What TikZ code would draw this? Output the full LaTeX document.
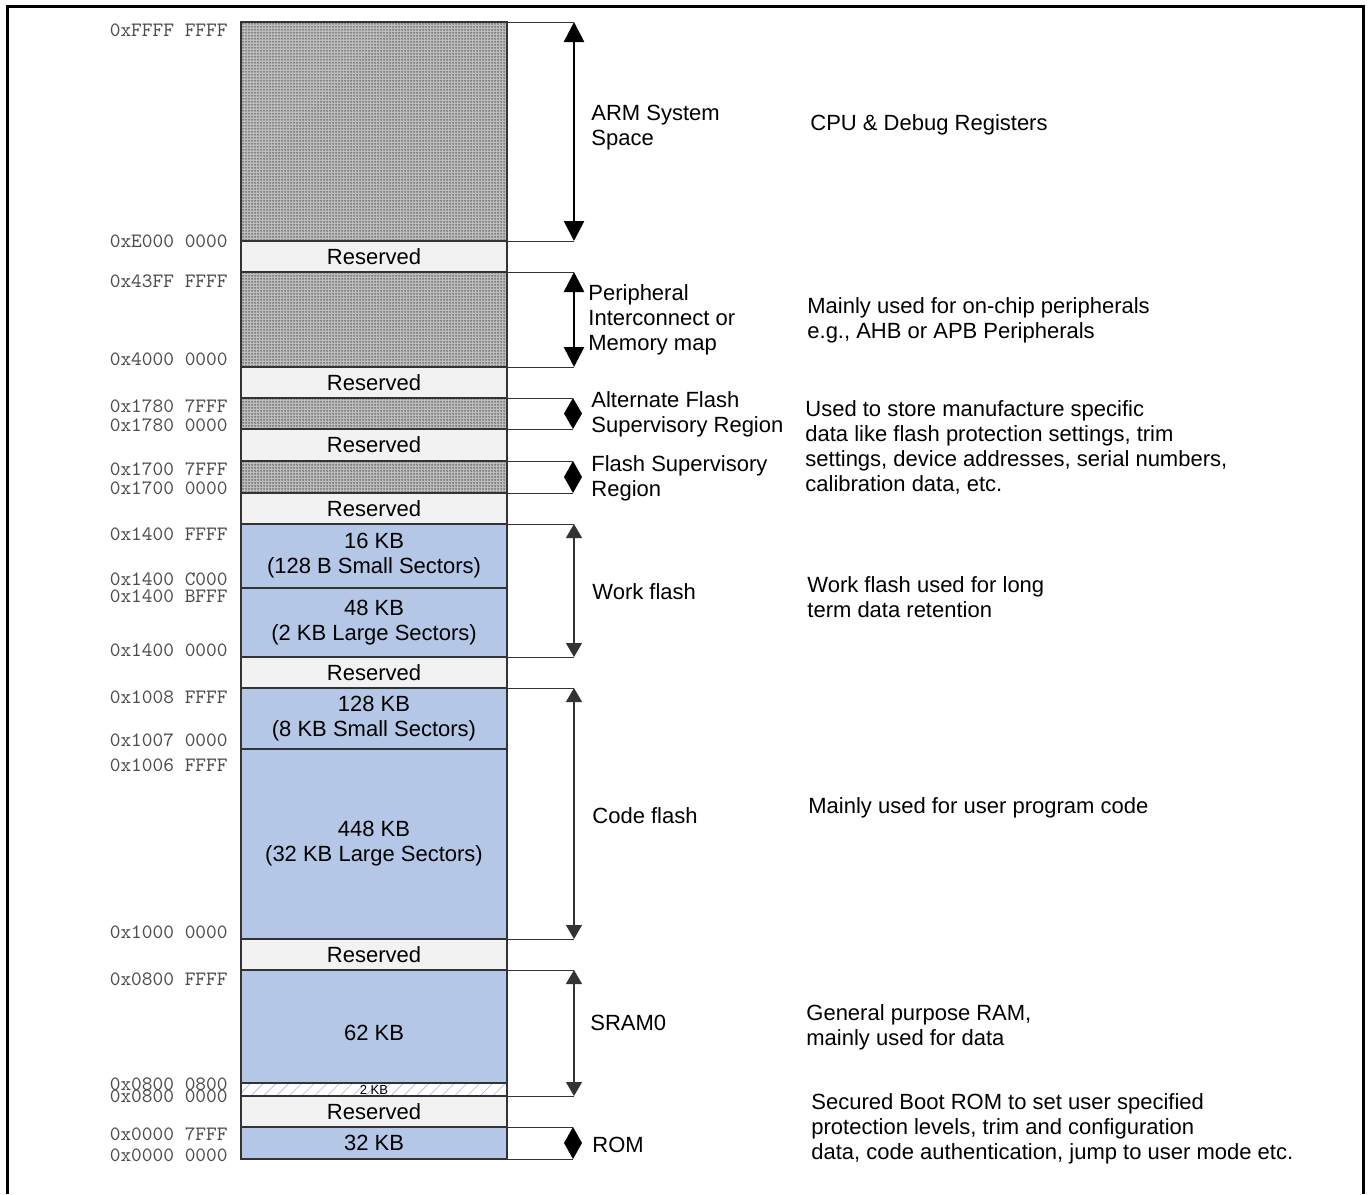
\documentclass[tikz,border=0pt]{standalone}
\usepackage{fontspec}
\setmainfont{Liberation Sans}
\usetikzlibrary{arrows.meta,patterns.meta,calc}
\definecolor{blu}{HTML}{B4C7E7}
\definecolor{resv}{HTML}{F2F2F2}
\definecolor{edgec}{HTML}{333333}
\newcommand\mytxt{\fontsize{11}{12.5}\selectfont}
\newcommand\myaddr{\fontsize{10.2}{12}\ttfamily}
\newcommand\memblk[5]{\node[#4, minimum height={(#3-#2)*0.5pt}] (#1) at (374,{(#2+#3)/2}) {#5};}
\newcommand\diamarrow[2]{\fill[black] (#1) -- ($(#1)!0.5!(#2)+(4.5pt,0)$) -- (#2) -- ($(#1)!0.5!(#2)+(-4.5pt,0)$) -- cycle;}
\tikzset{
 blk/.style={draw=edgec, line width=0.6pt, minimum width=133pt, inner sep=0pt, outer sep=0pt, font=\mytxt, align=center},
 resblk/.style={blk, fill=resv},
 blublk/.style={blk, fill=blu},
 dotblk/.style={blk, preaction={fill=black!26}, pattern={Dots[distance=1.5pt,radius=0.38pt]}, pattern color=black!70},
 hatblk/.style={blk, preaction={fill=white}, pattern={Lines[angle=45,distance=4.5pt,line width=0.4pt]}, pattern color=blu},
 addr/.style={font=\myaddr, text=black!70, anchor=east, inner sep=0pt},
 lbl/.style={font=\mytxt, align=left, anchor=west, inner sep=0pt, yshift=-1pt},
 intxt/.style={font=\mytxt, align=center, inner sep=0pt},
 edgeline/.style={draw=edgec, line width=0.5pt},
 thickarr/.style={line width=1.3pt, {Triangle[width=10pt,length=10pt]}-{Triangle[width=10pt,length=10pt]}},
 thinarr/.style={draw=edgec, line width=0.65pt, {Triangle[width=8pt,length=7pt]}-{Triangle[width=8pt,length=7pt]}},
}
\begin{document}
\begin{tikzpicture}[x=0.5pt,y=-0.5pt]
\useasboundingbox (0,0) rectangle (1369,1194);
\draw[line width=1.5pt] (7,1194) -- (7,6) -- (1363,6) -- (1363,1194);

% memory blocks
\memblk{arm}{22}{241}{dotblk}{}
\memblk{r1}{241}{272}{resblk}{Reserved}
\memblk{per}{272}{367}{dotblk}{}
\memblk{r2}{367}{398}{resblk}{Reserved}
\memblk{afs}{398}{429}{dotblk}{}
\memblk{r3}{429}{461}{resblk}{Reserved}
\memblk{fs}{461}{493}{dotblk}{}
\memblk{r4}{493}{524}{resblk}{Reserved}
\memblk{w16}{524}{588}{blublk}{16 KB\\(128 B Small Sectors)}
\memblk{w48}{588}{657}{blublk}{48 KB\\(2 KB Large Sectors)}
\memblk{r5}{657}{688}{resblk}{Reserved}
\memblk{c128}{688}{749}{blublk}{128 KB\\(8 KB Small Sectors)}
\memblk{c448}{749}{939}{blublk}{448 KB\\(32 KB Large Sectors)}
\memblk{r6}{939}{970}{resblk}{Reserved}
\memblk{s62}{970}{1083}{blublk}{}
\memblk{s2}{1083}{1096}{hatblk}{}
\memblk{r7}{1096}{1127}{resblk}{Reserved}
\memblk{rom}{1127}{1159}{blublk}{32 KB}
\node[intxt] (t62) at (374,1033) {62 KB};
\node[intxt, font=\fontsize{6.5}{7}\selectfont] (t2) at (374,1089.5) {2 KB};

% addresses
\node[addr] (a1) at (228,30) {0xFFFF FFFF};
\node[addr] (a2) at (228,241) {0xE000 0000};
\node[addr] (a3) at (228,281) {0x43FF FFFF};
\node[addr] (a4) at (228,359) {0x4000 0000};
\node[addr] (a5) at (228,406) {0x1780 7FFF};
\node[addr] (a6) at (228,425) {0x1780 0000};
\node[addr] (a7) at (228,469) {0x1700 7FFF};
\node[addr] (a8) at (228,488) {0x1700 0000};
\node[addr] (a9) at (228,534) {0x1400 FFFF};
\node[addr] (a10) at (228,579.5) {0x1400 C000};
\node[addr] (a11) at (228,596) {0x1400 BFFF};
\node[addr] (a12) at (228,650) {0x1400 0000};
\node[addr] (a13) at (228,697) {0x1008 FFFF};
\node[addr] (a14) at (228,740) {0x1007 0000};
\node[addr] (a15) at (228,765) {0x1006 FFFF};
\node[addr] (a16) at (228,932) {0x1000 0000};
\node[addr] (a17) at (228,979) {0x0800 FFFF};
\node[addr] (a18) at (228,1084) {0x0800 0800};
\node[addr] (a19) at (228,1096) {0x0800 0000};
\node[addr] (a20) at (228,1134) {0x0000 7FFF};
\node[addr] (a21) at (228,1155) {0x0000 0000};

% arrow end points
\coordinate (armT) at (574,22);   \coordinate (armB) at (574,241);
\coordinate (perT) at (574,272);  \coordinate (perB) at (574,367);
\coordinate (afsT) at (573,398);  \coordinate (afsB) at (573,429);
\coordinate (fsT) at (573,461);   \coordinate (fsB) at (573,493);
\coordinate (wkT) at (574,524);   \coordinate (wkB) at (574,657);
\coordinate (cdT) at (574,688);   \coordinate (cdB) at (574,939);
\coordinate (srT) at (574,970);   \coordinate (srB) at (574,1096);
\coordinate (romT) at (573,1127); \coordinate (romB) at (573,1159);

\draw[edgeline] (arm.north east) -- (armT);  \draw[edgeline] (arm.south east) -- (armB);
\draw[edgeline] (per.north east) -- (perT);  \draw[edgeline] (per.south east) -- (perB);
\draw[edgeline] (afs.north east) -- (afsT);  \draw[edgeline] (afs.south east) -- (afsB);
\draw[edgeline] (fs.north east) -- (fsT);    \draw[edgeline] (fs.south east) -- (fsB);
\draw[edgeline] (w16.north east) -- (wkT);   \draw[edgeline] (w48.south east) -- (wkB);
\draw[edgeline] (c128.north east) -- (cdT);  \draw[edgeline] (c448.south east) -- (cdB);
\draw[edgeline] (s62.north east) -- (srT);   \draw[edgeline] (s2.south east) -- (srB);
\draw[edgeline] (rom.north east) -- (romT);  \draw[edgeline] (rom.south east) -- (romB);

\draw[thickarr] (armT) -- (armB);
\draw[thickarr] (perT) -- (perB);
\diamarrow{afsT}{afsB}
\diamarrow{fsT}{fsB}
\draw[thinarr] (wkT) -- (wkB);
\draw[thinarr] (cdT) -- (cdB);
\draw[thinarr] (srT) -- (srB);
\diamarrow{romT}{romB}

% region labels
\node[lbl] (l1) at (591,125.5) {ARM System\\Space};
\node[lbl] (l2) at (588,318) {Peripheral\\Interconnect or\\Memory map};
\node[lbl] (l3) at (591,412.5) {Alternate Flash\\Supervisory Region};
\node[lbl] (l4) at (591,476) {Flash Supervisory\\Region};
\node[lbl] (l5) at (592,590) {Work flash};
\node[lbl] (l6) at (592,814) {Code flash};
\node[lbl] (l7) at (590,1021) {SRAM0};
\node[lbl] (l8) at (592,1143) {ROM};

% descriptions
\node[lbl] (d1) at (810,123) {CPU \& Debug Registers};
\node[lbl] (d2) at (807,318.5) {Mainly used for on-chip peripherals\\e.g., AHB or APB Peripherals};
\node[lbl] (d3) at (805,445) {Used to store manufacture specific\\data like flash protection settings, trim\\settings, device addresses, serial numbers,\\calibration data, etc.};
\node[lbl] (d4) at (807,595.5) {Work flash used for long\\term data retention};
\node[lbl] (d5) at (808,806) {Mainly used for user program code};
\node[lbl] (d6) at (806,1025.5) {General purpose RAM,\\mainly used for data};
\node[lbl] (d7) at (811,1127) {Secured Boot ROM to set user specified\\protection levels, trim and configuration\\data, code authentication, jump to user mode etc.};
\end{tikzpicture}
\end{document}
